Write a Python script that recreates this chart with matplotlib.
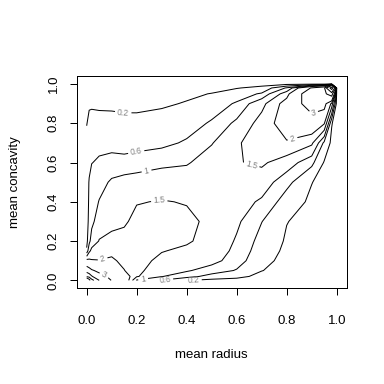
import numpy as np
import matplotlib
matplotlib.use("Agg")
import matplotlib.pyplot as plt

plt.rcParams['font.family'] = ['Liberation Sans', 'DejaVu Sans']

# grid of the copula density (uniform margins)
u_radius = [0, 0.01, 0.02, 0.05, 0.1, 0.15, 0.2, 0.3, 0.4, 0.5, 0.6, 0.7, 0.8, 0.9, 0.95, 0.98, 1.0]
u_concavity = [0, 0.02, 0.05, 0.1, 0.15, 0.2, 0.3, 0.4, 0.5, 0.6, 0.7, 0.8, 0.9, 0.95, 0.98, 1.0]

# one list per radius value, running up the concavity grid
density_by_radius = [
    [40, 8, 3.6, 2.2, 0.65, 0.5, 0.45, 0.42, 0.4, 0.35, 0.27, 0.19, 0.14, 0.1, 0.08, 0.06],
    [25, 6.5, 3.35, 2.12, 1.4, 0.85, 0.7, 0.66, 0.63, 0.5, 0.36, 0.26, 0.17, 0.11, 0.09, 0.07],
    [12, 5.2, 3.1, 2.05, 1.62, 1.25, 0.85, 0.8, 0.75, 0.59, 0.42, 0.3, 0.16, 0.11, 0.09, 0.07],
    [5, 3.3, 2.8, 2.02, 1.75, 1.52, 1.3, 1.02, 0.85, 0.65, 0.5, 0.35, 0.12, 0.1, 0.08, 0.07],
    [2.9, 2.8, 2.5, 2.1, 1.85, 1.65, 1.35, 1.2, 1.06, 0.75, 0.45, 0.3, 0.14, 0.1, 0.08, 0.07],
    [2.6, 2.4, 2.02, 1.85, 1.72, 1.62, 1.45, 1.3, 1.15, 0.75, 0.4, 0.28, 0.13, 0.1, 0.08, 0.07],
    [0.95, 1.55, 1.62, 1.65, 1.66, 1.65, 1.6, 1.48, 1.2, 0.78, 0.45, 0.28, 0.13, 0.1, 0.08, 0.07],
    [0.58, 1.02, 1.22, 1.4, 1.52, 1.6, 1.65, 1.52, 1.3, 0.88, 0.5, 0.32, 0.16, 0.11, 0.08, 0.07],
    [0.22, 0.75, 1.05, 1.3, 1.42, 1.55, 1.58, 1.48, 1.3, 0.95, 0.65, 0.42, 0.22, 0.15, 0.1, 0.07],
    [0.1, 0.45, 0.8, 1.15, 1.28, 1.35, 1.42, 1.45, 1.4, 1.25, 0.97, 0.65, 0.38, 0.21, 0.12, 0.08],
    [0.08, 0.3, 0.57, 0.78, 0.88, 0.95, 1.08, 1.2, 1.33, 1.47, 1.45, 1.1, 0.65, 0.4, 0.18, 0.08],
    [0.06, 0.1, 0.21, 0.3, 0.38, 0.45, 0.61, 0.93, 1.25, 1.58, 1.72, 1.7, 1.35, 0.65, 0.3, 0.08],
    [0.03, 0.05, 0.07, 0.1, 0.13, 0.16, 0.21, 0.4, 0.72, 1.25, 1.95, 2.3, 2.25, 1.8, 1.05, 0.1],
    [0.02, 0.03, 0.04, 0.05, 0.06, 0.07, 0.09, 0.13, 0.21, 0.7, 1.6, 2.5, 3.5, 3.8, 3.1, 0.1],
    [0.01, 0.015, 0.02, 0.025, 0.03, 0.035, 0.045, 0.06, 0.09, 0.17, 0.5, 2.05, 3.4, 4.6, 4.0, 0.1],
    [0.005, 0.007, 0.01, 0.012, 0.015, 0.018, 0.025, 0.035, 0.05, 0.08, 0.12, 0.22, 1.8, 6, 25, 0.1],
    [0.003, 0.003, 0.004, 0.005, 0.006, 0.007, 0.01, 0.015, 0.02, 0.03, 0.04, 0.05, 0.06, 0.08, 0.1, 0.1],
]

levels = [0.2, 0.6, 1, 1.5, 2, 3, 5, 10, 20]
tick_values = [0.0, 0.2, 0.4, 0.6, 0.8, 1.0]
tick_labels = ['0.0', '0.2', '0.4', '0.6', '0.8', '1.0']

# where the labels sit on the lines
label_spots = [(0.145, 0.845), (0.2, 0.64), (0.24, 0.553), (0.29, 0.41),
               (0.064, 0.107), (0.07, 0.027), (0.655, 0.57), (0.824, 0.718),
               (0.904, 0.862), (0.226, 0.004), (0.313, 0.004), (0.427, 0.004)]

fig = plt.figure(figsize=(384 / 72, 384 / 72), dpi=72)
ax = fig.add_axes([0.1997, 0.2495, 0.7032, 0.5521])

Z = np.array(density_by_radius).T
cs = ax.contour(u_radius, u_concavity, Z, levels=levels, colors='black', linewidths=1)
ax.clabel(cs, fmt=lambda v: f'{v:g}', fontsize=8.5, colors='#808080',
          inline=True, inline_spacing=3, manual=label_spots)

ax.set_xlim(-0.04, 1.04)
ax.set_ylim(-0.04, 1.04)
ax.set_xticks(tick_values)
ax.set_xticklabels(tick_labels)
ax.set_yticks(tick_values)
ax.set_yticklabels(tick_labels, rotation=90, va='center')
ax.tick_params(direction='out', length=7.2, width=1, labelsize=13.3)
ax.tick_params(axis='x', pad=19.5)
ax.tick_params(axis='y', pad=10)
for s in ax.spines.values():
    s.set_linewidth(1)

ax.set_xlabel('mean radius', fontsize=13.3, labelpad=22)
ax.set_ylabel('mean concavity', fontsize=13.3, labelpad=26)

fig.savefig('out.png', dpi=72)
